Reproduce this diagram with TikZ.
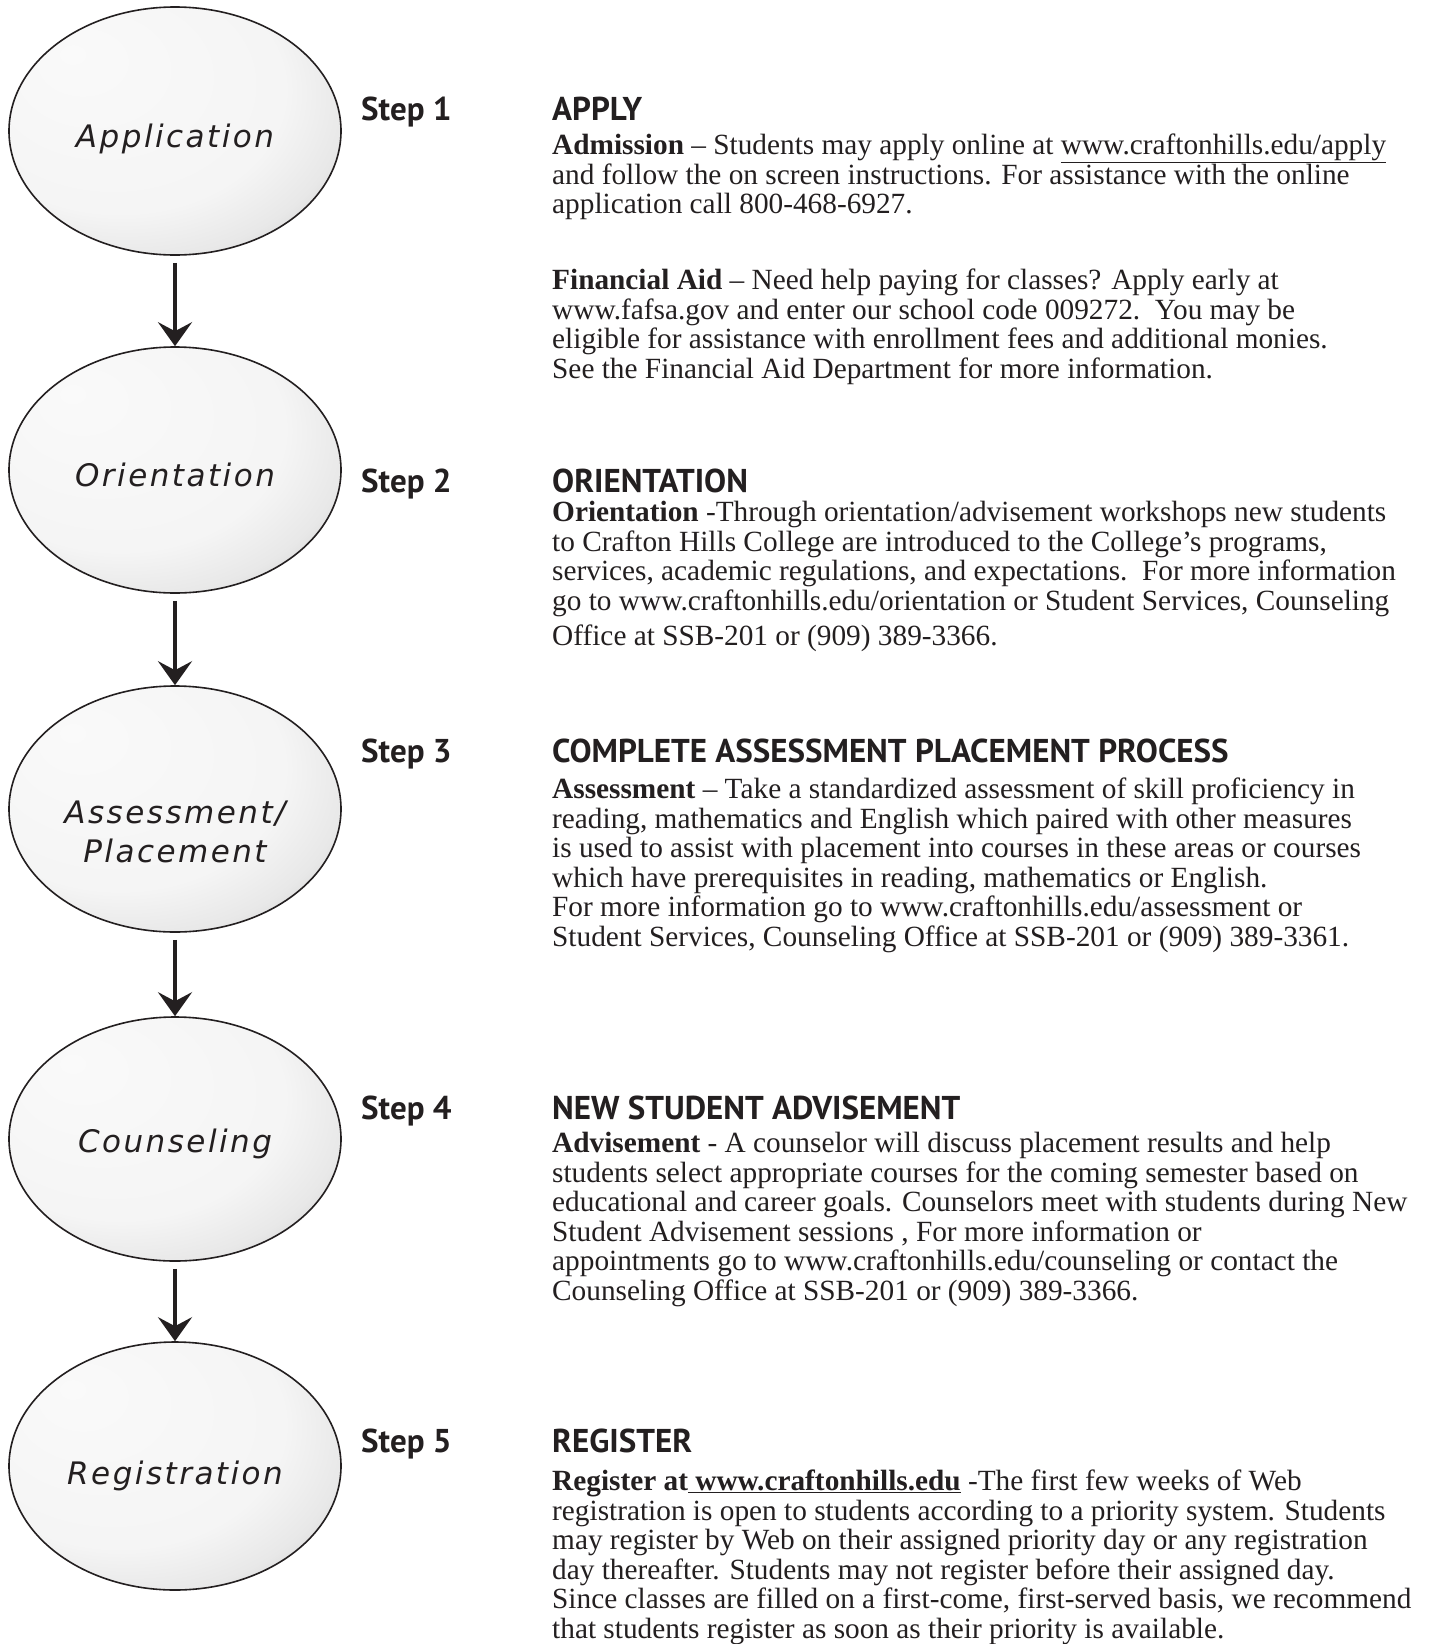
\documentclass[tikz,border=0pt]{standalone}
\usepackage{fontspec}
\usepackage{xcolor}
\usetikzlibrary{arrows.meta,shapes.geometric}
\setmainfont{Liberation Serif}
\newfontfamily\stepfont{PT Sans}
\newfontfamily\ovalfont[LetterSpace=8]{DejaVu Sans}
\definecolor{ink}{RGB}{35,31,32}
\pgfdeclareradialshading{ovalshade}{\pgfpoint{-16bp}{16bp}}{color(0bp)=(black!2); color(25bp)=(black!4); color(32bp)=(black!9); color(37bp)=(black!18); color(41bp)=(black!32); color(45bp)=(black!48); color(48bp)=(black!62); color(52bp)=(black!70)}
\tikzset{
  oval/.style={ellipse, draw=ink, line width=1.6pt, shading=ovalshade, inner sep=0pt, minimum width=332pt},
  ovaltext/.style={inner sep=0pt, font=\ovalfont\itshape\fontsize{31}{39}\selectfont, text=ink, align=center},
  flow/.style={draw=ink, line width=4.5pt, shorten <=7pt, -{Stealth[length=24pt, width=34pt, inset=9pt]}},
  steplabel/.style={anchor=base west, inner sep=0pt, font=\stepfont\bfseries\fontsize{33}{36}\selectfont, text=ink},
  body/.style={anchor=north west, inner sep=0pt, align=left, font=\fontsize{29.3}{29.5}\selectfont, text=ink}
}
\begin{document}
\begin{tikzpicture}[x=1pt,y=-1pt]
\useasboundingbox (0.000000,0.000000) rectangle (1437.000000,1644.000000);
\fill[white] (0.000000,0.000000) rectangle (1437.000000,1644.000000);
% Drawing ovals
% Line 1: Application
\node[oval, minimum height=248pt] (app) at (175.000000,131.000000) {};
\node[ovaltext] (appt) at (175.000000,139.000000) {Application};
% Line 2: Orientation
\node[oval, minimum height=246pt] (ori) at (175.000000,470.000000) {};
\node[ovaltext] (orit) at (175.000000,475.000000) {Orientation};
% Line 3: Assessment/Placement
\node[oval, minimum height=246pt] (ass) at (175.000000,809.000000) {};
\node[ovaltext] (asst) at (175.000000,832.000000) {Assessment/\\Placement};
% Line 4: Counseling
\node[oval, minimum height=244pt] (cou) at (175.000000,1139.000000) {};
\node[ovaltext] (cout) at (175.000000,1144.000000) {Counseling};
% Line 5: Registration
\node[oval, minimum height=248pt] (reg) at (175.000000,1466.000000) {};
\node[ovaltext] (regt) at (175.000000,1476.000000) {Registration};
% Done with ovals; drawing arrows
\draw[flow] (app) -- (ori);
\draw[flow] (ori) -- (ass);
\draw[flow] (ass) -- (cou);
\draw[flow] (cou) -- (reg);
% Done with arrows; drawing step labels and headings
\node[steplabel] (s1) at (361.000000,120.000000) {Step 1};
\node[steplabel] (h1) at (552.000000,120.000000) {APPLY};
\node[steplabel] (s2) at (361.000000,492.000000) {Step 2};
\node[steplabel] (h2) at (552.000000,492.000000) {ORIENTATION};
\node[steplabel] (s3) at (361.000000,762.000000) {Step 3};
\node[steplabel] (h3) at (552.000000,762.000000) {COMPLETE ASSESSMENT PLACEMENT PROCESS};
\node[steplabel] (s4) at (361.000000,1119.000000) {Step 4};
\node[steplabel] (h4) at (552.000000,1119.000000) {NEW STUDENT ADVISEMENT};
\node[steplabel] (s5) at (361.000000,1452.000000) {Step 5};
\node[steplabel] (h5) at (552.000000,1452.000000) {REGISTER};
% Done with headings; drawing text blocks
\node[body] (t1) at (552.000000,134.000000) {\textbf{Admission} -- Students may apply online at \underline{www.craftonhills.edu/apply}\\
and follow the on screen instructions. For assistance with the online\\
application call 800-468-6927.};
\node[body] (t1b) at (552.000000,269.000000) {\textbf{Financial Aid} -- Need help paying for classes? Apply early at\\
www.fafsa.gov and enter our school code 009272.\ \ You may be\\
eligible for assistance with enrollment fees and additional monies.\\
See the Financial Aid Department for more information.};
\node[body] (t2) at (552.000000,501.000000) {\textbf{Orientation} -Through orientation/advisement workshops new students\\
to Crafton Hills College are introduced to the College's programs,\\
services, academic regulations, and expectations.\ \ For more information\\
go to www.craftonhills.edu/orientation or Student Services, Counseling\\[6pt]
Office at SSB-201 or (909) 389-3366.};
\node[body] (t3) at (552.000000,778.000000) {\textbf{Assessment} -- Take a standardized assessment of skill proficiency in\\
reading, mathematics and English which paired with other measures\\
is used to assist with placement into courses in these areas or courses\\
which have prerequisites in reading, mathematics or English.\\
For more information go to www.craftonhills.edu/assessment or\\
Student Services, Counseling Office at SSB-201 or (909) 389-3361.};
\node[body] (t4) at (552.000000,1132.000000) {\textbf{Advisement} - A counselor will discuss placement results and help\\
students select appropriate courses for the coming semester based on\\
educational and career goals. Counselors meet with students during New\\
Student Advisement sessions , For more information or\\
appointments go to www.craftonhills.edu/counseling or contact the\\
Counseling Office at SSB-201 or (909) 389-3366.};
\node[body] (t5) at (552.000000,1470.000000) {\textbf{Register at\underline{ www.craftonhills.edu}} -The first few weeks of Web\\
registration is open to students according to a priority system. Students\\
may register by Web on their assigned priority day or any registration\\
day thereafter. Students may not register before their assigned day.\\
Since classes are filled on a first-come, first-served basis, we recommend\\
that students register as soon as their priority is available.};
% Done with text blocks
\end{tikzpicture}
\end{document}
